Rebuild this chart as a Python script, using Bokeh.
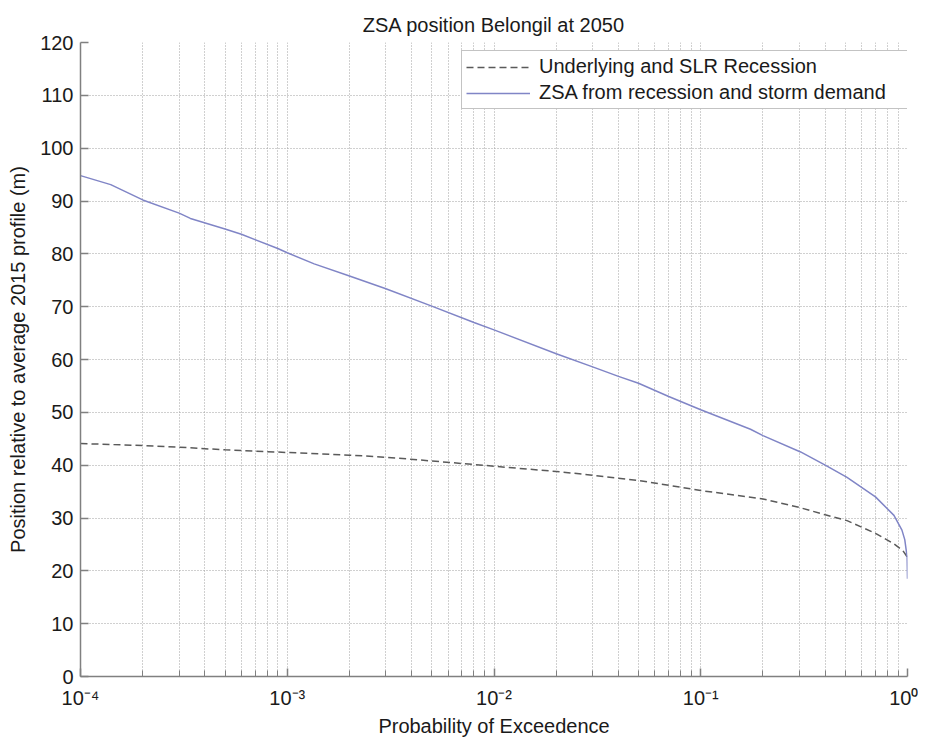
from bokeh.plotting import figure
from bokeh.models import (FixedTicker, CustomJSTickFormatter, Legend, LegendItem,
                          ColumnDataSource)
from bokeh.embed import file_html
from bokeh.resources import INLINE

# ---- data ----
zsa_p = [1e-4, 1.4e-4, 2e-4, 3e-4, 3.4e-4, 5e-4, 6e-4, 9e-4, 1e-3, 1.35e-3,
         2e-3, 3e-3, 5e-3, 8e-3, 1e-2, 2e-2, 3e-2, 4e-2, 5e-2, 7e-2,
         0.1, 0.174, 0.2, 0.304, 0.4, 0.51, 0.70, 0.86, 0.94, 0.97, 0.996, 1.0]
zsa_pos = [94.8, 93.1, 90.2, 87.7, 86.7, 84.7, 83.7, 81.0, 80.2, 78.1,
           75.8, 73.4, 70.1, 67.0, 65.6, 61.1, 58.6, 56.8, 55.5, 53.0,
           50.5, 46.8, 45.6, 42.5, 40.0, 37.7, 34.0, 30.5, 27.7, 25.9, 22.6, 18.5]

rec_p = [1e-4, 2e-4, 3e-4, 5e-4, 1e-3, 2e-3, 3e-3, 5e-3, 1e-2, 2e-2,
         3e-2, 5e-2, 7e-2, 0.1, 0.2, 0.3, 0.4, 0.51, 0.70, 0.86, 0.95, 0.99, 1.0]
rec_pos = [44.1, 43.7, 43.4, 42.9, 42.4, 41.9, 41.5, 40.8, 39.8, 38.8,
           38.1, 37.1, 36.2, 35.2, 33.6, 32.0, 30.6, 29.5, 27.1, 25.1, 23.8, 22.8, 22.0]

x_major_ticks = [1e-4, 1e-3, 1e-2, 1e-1, 1.0]
x_minor_mult = [2, 3, 4, 5, 6, 7, 8, 9]
y_ticks = [0, 10, 20, 30, 40, 50, 60, 70, 80, 90, 100, 110, 120]

title_text = "ZSA position Belongil at 2050"
x_label = "Probability of Exceedence"
y_label = "Position relative to average 2015 profile (m)"
legend_labels = ["Underlying and SLR Recession", "ZSA from recession and storm demand"]

FONT = "Liberation Sans"
TXT = "#1a1a1a"
AXC = "#808080"
GRIDC = "#a0a0a0"

p = figure(x_axis_type="log", x_range=(1e-4, 1.0), y_range=(0, 120),
           frame_width=827, frame_height=634,
           min_border_left=80, min_border_right=11, min_border_top=42, min_border_bottom=52,
           output_backend="svg", toolbar_location=None,
           background_fill_color="white", border_fill_color="white")
p.outline_line_color = None

p.title.text = title_text
p.title.align = "center"
p.title.text_font = FONT
p.title.text_font_size = "20px"
p.title.text_font_style = "normal"
p.title.text_color = TXT
p.title.standoff = 13

minor = [m * t for t in x_major_ticks[:-1] for m in x_minor_mult]
p.xaxis.ticker = FixedTicker(ticks=x_major_ticks, minor_ticks=minor)
p.yaxis.ticker = FixedTicker(ticks=y_ticks)
p.xaxis.formatter = CustomJSTickFormatter(code="""
const sup = {'-':'\u207b','0':'\u2070','1':'\u00b9','2':'\u00b2','3':'\u00b3','4':'\u2074','5':'\u2075'};
const e = Math.round(Math.log10(tick));
return '10' + String(e).split('').map(c => sup[c]).join('');
""")

for ax in (p.xaxis, p.yaxis):
    ax.axis_line_color = AXC
    ax.axis_line_width = 1.5
    ax.major_tick_line_color = AXC
    ax.major_tick_line_width = 1.5
    ax.major_tick_in = 8
    ax.major_tick_out = 0
    ax.minor_tick_line_color = AXC
    ax.minor_tick_in = 6
    ax.minor_tick_out = 0
    ax.major_label_text_font = FONT
    ax.major_label_text_font_size = "20px"
    ax.major_label_text_color = TXT
    ax.axis_label_text_font = FONT
    ax.axis_label_text_font_size = "20px"
    ax.axis_label_text_font_style = "normal"
    ax.axis_label_text_color = TXT
p.yaxis.minor_tick_line_color = None
p.xaxis.axis_label = x_label
p.yaxis.axis_label = y_label
p.xaxis.major_label_standoff = 10
p.xaxis.axis_label_standoff = 3
p.yaxis.major_label_standoff = 7
p.yaxis.axis_label_standoff = 8

for g in (p.xgrid, p.ygrid):
    g.grid_line_color = GRIDC
    g.grid_line_dash = "1 2"
    g.grid_line_width = 1
p.xgrid.minor_grid_line_color = GRIDC
p.xgrid.minor_grid_line_dash = "1 2"
p.xgrid.minor_grid_line_width = 1

rec_src = ColumnDataSource(dict(x=rec_p, y=rec_pos))
zsa_src = ColumnDataSource(dict(x=zsa_p, y=zsa_pos))
r1 = p.line("x", "y", source=rec_src, line_color="#5a5a5a", line_width=1.5, line_dash="7 4")
r2 = p.line("x", "y", source=zsa_src, line_color="#8085c6", line_width=1.5)

legend = Legend(items=[LegendItem(label=legend_labels[0], renderers=[r1]),
                       LegendItem(label=legend_labels[1], renderers=[r2])],
                location=(381, 567), orientation="vertical")
legend.label_text_font = FONT
legend.label_text_font_size = "20px"
legend.label_text_color = TXT
legend.glyph_width = 64
legend.glyph_height = 22
legend.label_height = 22
legend.label_width = 364
legend.label_standoff = 9
legend.padding = 4
legend.spacing = 3
legend.margin = 0
legend.border_line_color = "#888888"
legend.border_line_width = 1.5
legend.background_fill_color = "white"
legend.background_fill_alpha = 1.0
p.add_layout(legend)

open("out.html", "w").write(file_html(p, INLINE))
